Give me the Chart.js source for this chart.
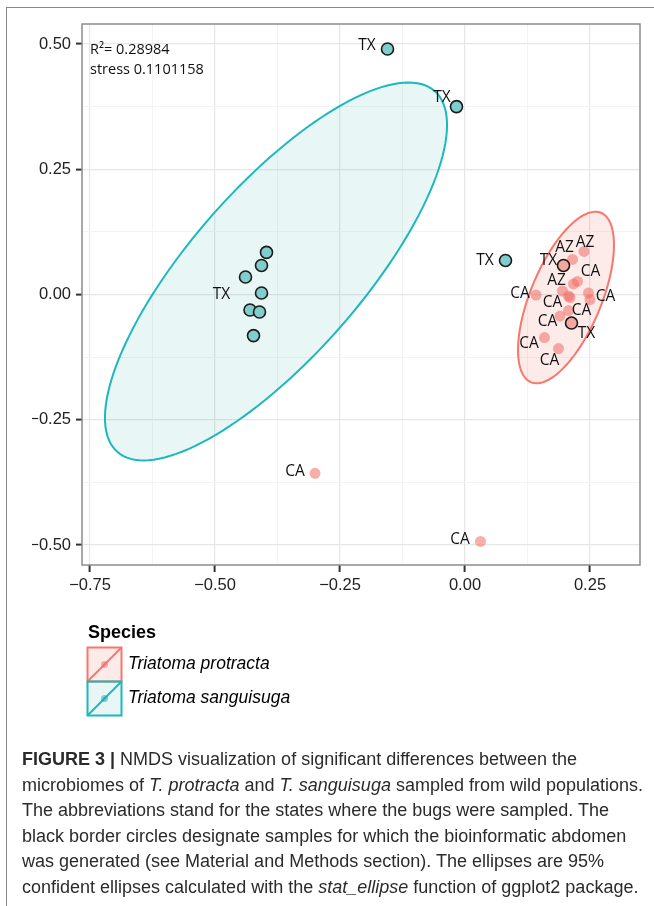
<!DOCTYPE html>
<html>
<head>
<meta charset="utf-8">
<script src="https://cdn.jsdelivr.net/npm/chart.js@4.4.1/dist/chart.umd.min.js"></script>
<style>
  html, body { margin: 0; padding: 0; background: #fff; }
  #page { position: relative; width: 654px; height: 906px; overflow: hidden; }
  #frame { position: absolute; left: 6px; top: 7px; width: 700px; height: 950px; border-left: 1.5px solid #8a8a8a; border-top: 1.5px solid #8a8a8a; }
  #nmds { position: absolute; left: 0; top: 0; }
  #caption { position: absolute; left: 22px; top: 747px; font-family: "Liberation Sans", Arial, sans-serif; font-size: 18px; line-height: 25.6px; color: #2b2b2b; white-space: nowrap; }
</style>
</head>
<body>
<div id="page">
  <div id="frame"></div>
  <canvas id="nmds" width="654" height="906"></canvas>
  <div id="caption">
    <b>FIGURE 3 |</b> NMDS visualization of significant differences between the<br>
    microbiomes of <i>T. protracta</i> and <i>T. sanguisuga</i> sampled from wild populations.<br>
    The abbreviations stand for the states where the bugs were sampled. The<br>
    black border circles designate samples for which the bioinformatic abdomen<br>
    was generated (see Material and Methods section). The ellipses are 95%<br>
    confident ellipses calculated with the <i>stat_ellipse</i> function of ggplot2 package.
  </div>
</div>
<script>
// axis ranges (NMDS1 / NMDS2)
const xRange = [-0.766, 0.35];
const yRange = [-0.54, 0.54];
const majorStep = 0.25;

// Triatoma sanguisuga samples
const sanguisugaX = [-0.155, -0.017, 0.081, -0.397, -0.407, -0.439, -0.407, -0.430, -0.411, -0.423];
const sanguisugaY = [0.490, 0.375, 0.068, 0.084, 0.058, 0.035, 0.003, -0.031, -0.035, -0.082];
const sanguisugaState = ['TX', 'TX', 'TX', '', '', '', 'TX', '', '', ''];
const sanguisugaLabelX = [-0.196, -0.046, 0.040, null, null, null, -0.487, null, null, null];
const sanguisugaLabelY = [0.497, 0.393, 0.068, null, null, null, 0.000, null, null, null];
const sanguisugaAbdomen = [true, true, true, true, true, true, true, true, true, true];

// Triatoma protracta samples
const protractaX = [0.238, 0.215, 0.197, 0.225, 0.217, 0.195, 0.142, 0.207, 0.210, 0.247, 0.250, 0.207, 0.190, 0.213, 0.159, 0.187, -0.300, 0.031];
const protractaY = [0.086, 0.070, 0.058, 0.026, 0.021, 0.007, -0.001, -0.003, -0.006, 0.003, -0.010, -0.032, -0.043, -0.057, -0.086, -0.108, -0.357, -0.493];
const protractaState = ['AZ', 'AZ', 'TX', 'CA', '', 'AZ', 'CA', 'CA', '', '', 'CA', 'CA', 'CA', 'TX', 'CA', 'CA', 'CA', 'CA'];
const protractaLabelX = [0.240, 0.199, 0.167, 0.251, null, 0.183, 0.110, 0.233, null, null, 0.281, 0.175, 0.165, 0.243, 0.128, 0.169, -0.340, -0.010];
const protractaLabelY = [0.104, 0.094, 0.068, 0.045, null, 0.028, 0.001, -0.032, null, null, -0.005, -0.017, -0.055, -0.078, -0.098, -0.132, -0.353, -0.489];
const protractaAbdomen = [false, false, true, false, false, false, false, false, false, false, false, false, false, true, false, false, false, false];

// 95% ellipses: centre x, centre y, semi-major, semi-minor, angle (deg)
const protractaEllipse = [0.202, -0.006, 0.183, 0.071, 67.5];
const sanguisugaEllipse = [-0.378, 0.046, 0.48, 0.17, 48.6];

const red = '#F8766D';
const teal = '#00BFC4';

function toPoints(xs, ys) {
  return xs.map((x, i) => ({ x: x, y: ys[i] }));
}

function isMajor(v) {
  const r = v / majorStep;
  return Math.abs(r - Math.round(r)) < 1e-6;
}

function tickText(v) {
  return isMajor(v) ? (v < -1e-9 ? '\u2212' : '') + Math.abs(v).toFixed(2) : '';
}

function traceEllipse(c, xs, ys, e) {
  const [cx, cy, a, b, deg] = e;
  const th = deg * Math.PI / 180;
  c.beginPath();
  for (let i = 0; i <= 144; i++) {
    const t = i / 144 * Math.PI * 2;
    const dx = a * Math.cos(t), dy = b * Math.sin(t);
    const px = xs.getPixelForValue(cx + dx * Math.cos(th) - dy * Math.sin(th));
    const py = ys.getPixelForValue(cy + dx * Math.sin(th) + dy * Math.cos(th));
    if (i === 0) c.moveTo(px, py); else c.lineTo(px, py);
  }
  c.closePath();
}

const ellipsePlugin = {
  id: 'ellipses',
  beforeDatasetsDraw(chart) {
    const c = chart.ctx, xs = chart.scales.x, ys = chart.scales.y;
    c.save();
    traceEllipse(c, xs, ys, sanguisugaEllipse);
    c.fillStyle = 'rgba(0,150,155,0.09)';
    c.fill();
    c.strokeStyle = '#1DB8BC'; c.lineWidth = 2; c.stroke();
    traceEllipse(c, xs, ys, protractaEllipse);
    c.fillStyle = 'rgba(240,110,100,0.14)';
    c.fill();
    c.strokeStyle = red; c.lineWidth = 2; c.stroke();
    c.restore();
  }
};

const annotationPlugin = {
  id: 'annotations',
  afterDatasetsDraw(chart) {
    const c = chart.ctx, xs = chart.scales.x, ys = chart.scales.y, a = chart.chartArea;
    c.save();
    c.fillStyle = '#111';
    c.font = '15.5px "Open Sans", sans-serif';
    c.textAlign = 'center';
    c.textBaseline = 'middle';
    const groups = [
      [sanguisugaState, sanguisugaLabelX, sanguisugaLabelY],
      [protractaState, protractaLabelX, protractaLabelY]
    ];
    groups.forEach(([txt, lx, ly]) => {
      txt.forEach((t, i) => {
        if (!t) return;
        c.fillText(t, xs.getPixelForValue(lx[i]), ys.getPixelForValue(ly[i]));
      });
    });
    c.textAlign = 'left';
    c.font = '14.5px "Open Sans", sans-serif';
    c.fillText('R²= 0.28984', a.left + 8, a.top + 26);
    c.fillText('stress 0.1101158', a.left + 8, a.top + 46);
    // panel border
    c.strokeStyle = '#8c8c8c';
    c.lineWidth = 1.5;
    c.strokeRect(a.left, a.top, a.right - a.left, a.bottom - a.top);
    c.restore();
  },
  afterDraw(chart) {
    const c = chart.ctx;
    c.save();
    c.fillStyle = '#000';
    c.font = 'bold 18px "Liberation Sans", Arial, sans-serif';
    c.textBaseline = 'middle';
    c.fillText('Species', 88, 633);
    const keys = [
      ['Triatoma protracta', red, 'rgba(240,110,100,0.14)', 'rgba(240,110,100,0.55)', 647.5],
      ['Triatoma sanguisuga', '#1DB8BC', 'rgba(0,150,155,0.09)', 'rgba(0,170,175,0.5)', 681.5]
    ];
    keys.forEach(([name, col, fill, dot, top]) => {
      const x = 87.5, w = 34;
      c.fillStyle = fill;
      c.fillRect(x, top, w, w);
      c.strokeStyle = col;
      c.lineWidth = 2;
      c.strokeRect(x, top, w, w);
      c.beginPath();
      c.moveTo(x, top + w);
      c.lineTo(x + w, top);
      c.stroke();
      c.beginPath();
      c.arc(x + w / 2, top + w / 2, 3.5, 0, Math.PI * 2);
      c.fillStyle = dot;
      c.fill();
      c.fillStyle = '#000';
      c.font = 'italic 17.5px "Liberation Sans", Arial, sans-serif';
      c.fillText(name, 128, top + w / 2);
    });
    c.restore();
  }
};

const ctx = document.getElementById('nmds').getContext('2d');

const nmdsChart = new Chart(ctx, {
  type: 'scatter',
  data: {
    datasets: [{
      label: 'Triatoma protracta',
      data: toPoints(protractaX, protractaY),
      backgroundColor: 'rgba(240,110,100,0.55)',
      pointBorderColor: protractaAbdomen.map(b => b ? '#1a1a1a' : 'rgba(0,0,0,0)'),
      pointBorderWidth: protractaAbdomen.map(b => b ? 1.6 : 0),
      pointRadius: protractaAbdomen.map(b => b ? 6 : 5.5)
    }, {
      label: 'Triatoma sanguisuga',
      data: toPoints(sanguisugaX, sanguisugaY),
      backgroundColor: '#80CDCE',
      pointBorderColor: sanguisugaAbdomen.map(b => b ? '#1a1a1a' : 'rgba(0,0,0,0)'),
      pointBorderWidth: sanguisugaAbdomen.map(b => b ? 1.6 : 0),
      pointRadius: sanguisugaAbdomen.map(b => b ? 6 : 5.5)
    }]
  },
  options: {
    responsive: false,
    animation: false,
    events: [],
    layout: {
      padding: { left: 32, right: 14, top: 24, bottom: 301 }
    },
    plugins: {
      legend: { display: false },
      tooltip: { enabled: false }
    },
    scales: {
      x: {
        type: 'linear',
        min: xRange[0],
        max: xRange[1],
        afterFit: s => { s.height = 40; },
        border: { display: false },
        grid: {
          color: c => isMajor(c.tick.value) ? '#e6e6e6' : '#f3f3f3',
          lineWidth: c => isMajor(c.tick.value) ? 1.2 : 1,
          tickColor: c => isMajor(c.tick.value) ? '#333' : 'rgba(0,0,0,0)',
          tickLength: 7,
          tickWidth: 2
        },
        ticks: {
          stepSize: 0.125,
          includeBounds: false,
          autoSkip: false,
          maxRotation: 0,
          padding: 4,
          color: '#222',
          font: { family: '"Liberation Sans", Arial, sans-serif', size: 16.5 },
          callback: tickText
        }
      },
      y: {
        type: 'linear',
        min: yRange[0],
        max: yRange[1],
        afterFit: s => { s.width = 50; },
        border: { display: false },
        grid: {
          color: c => isMajor(c.tick.value) ? '#e6e6e6' : '#f3f3f3',
          lineWidth: c => isMajor(c.tick.value) ? 1.2 : 1,
          tickColor: c => isMajor(c.tick.value) ? '#333' : 'rgba(0,0,0,0)',
          tickLength: 6,
          tickWidth: 2
        },
        ticks: {
          stepSize: 0.125,
          includeBounds: false,
          autoSkip: false,
          padding: 5,
          color: '#222',
          font: { family: '"Liberation Sans", Arial, sans-serif', size: 16.5 },
          callback: tickText
        }
      }
    }
  },
  plugins: [ellipsePlugin, annotationPlugin]
});
</script>
</body>
</html>
